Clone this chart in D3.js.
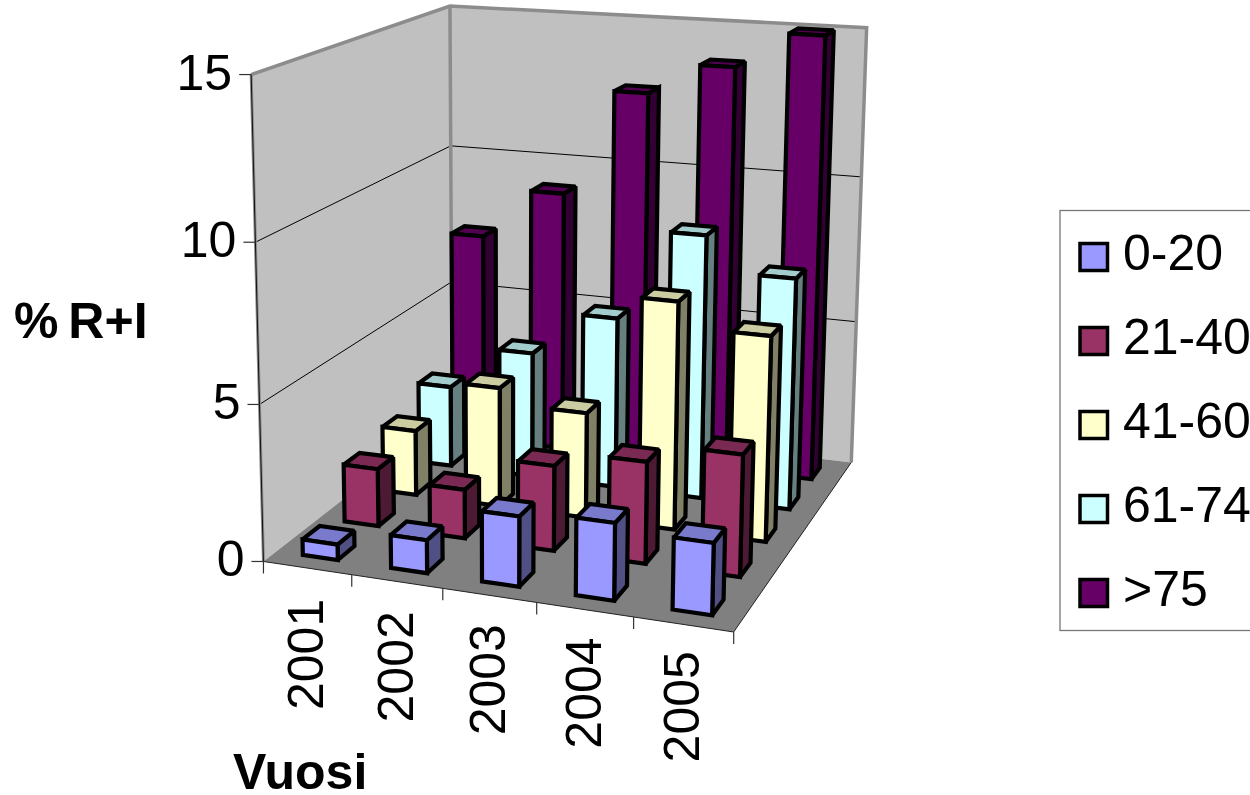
<!DOCTYPE html>
<html>
<head>
<meta charset="utf-8">
<script src="https://cdn.jsdelivr.net/npm/d3@7"></script>
<style>
html,body{margin:0;padding:0;background:#fff;}
svg{display:block;}
text{font-family:"Liberation Sans",Arial,sans-serif;fill:#000;}
</style>
</head>
<body>
<svg id="chart" width="1250" height="795"></svg>
<script>
// Chart values: share (%) per year and age group
const years = ["2001","2002","2003","2004","2005"];
const groups = ["0-20","21-40","41-60","61-74",">75"];
const values0to20  = [0.5, 1.05, 2.2, 2.4, 2.2];
const values21to40 = [1.9, 1.6, 2.75, 3.25, 3.85];
const values41to60 = [2.2, 4.0, 3.5, 7.45, 6.65];
const values61to74 = [2.8, 4.3, 5.8, 8.85, 7.7];
const values75plus = [7.35, 9.1, 12.75, 13.8, 15.0];
const seriesValues = [values0to20, values21to40, values41to60, values61to74, values75plus];
const zTicks = [0, 5, 10, 15];

// Face colours of each group: front, right side, top
const frontColors = ["#9999ff","#993366","#ffffcc","#ccffff","#660066"];
const sideColors  = ["#505085","#4d1a33","#808066","#668080","#330033"];
const topColors   = ["#7a7acc","#7a2952","#cccca3","#a3cccc","#520052"];

// Camera calibration: box positions (x, depth, z in unit cube) and where they fall on the page
const calibration = [
  [0,0,0,264,563],[0.2,0,0,351,576],[0.4,0,0,442,590],[0.6,0,0,536,603],[0.8,0,0,631,616],[1,0,0,735,630],
  [1,1,0,854,462],[0,1,0,452,412],
  [0,0,1/3,262,405],[0,0,2/3,257,240],[0,0,1,250,74],
  [0,1,1/3,451,282],[0,1,2/3,450,147],[0,1,1,450,6],
  [1,1,1/3,855,322],[1,1,2/3,860,179],[1,1,1,868,27]
];

function solveLinear(A, b) {
  const n = b.length, M = A.map((r,i) => [...r, b[i]]);
  for (let c = 0; c < n; c++) {
    let p = c;
    for (let r = c+1; r < n; r++) if (Math.abs(M[r][c]) > Math.abs(M[p][c])) p = r;
    [M[c], M[p]] = [M[p], M[c]];
    for (let r = 0; r < n; r++) {
      if (r === c) continue;
      const f = M[r][c] / M[c][c];
      for (let k = c; k <= n; k++) M[r][k] -= f * M[c][k];
    }
  }
  return M.map((r,i) => r[n] / r[i]);
}

// Least-squares fit of the 3x4 projection matrix
function fitCamera(pts) {
  const rows = [], rhs = [];
  pts.forEach(([X,Y,Z,u,v]) => {
    rows.push([X,Y,Z,1,0,0,0,0,-u*X,-u*Y,-u*Z]); rhs.push(u);
    rows.push([0,0,0,0,X,Y,Z,1,-v*X,-v*Y,-v*Z]); rhs.push(v);
  });
  const N = d3.range(11).map(i => d3.range(11).map(j => d3.sum(rows, r => r[i]*r[j])));
  const B = d3.range(11).map(i => d3.sum(rows, (r,k) => r[i]*rhs[k]));
  return solveLinear(N, B);
}
const cam = fitCamera(calibration);
const project = (X,Y,Z) => {
  const w = cam[8]*X + cam[9]*Y + cam[10]*Z + 1;
  return [(cam[0]*X+cam[1]*Y+cam[2]*Z+cam[3])/w, (cam[4]*X+cam[5]*Y+cam[6]*Z+cam[7])/w];
};

const xBand = d3.scaleBand().domain(years).range([0,1]).paddingInner(0.6).paddingOuter(0.3);
const yBand = d3.scaleBand().domain(groups).range([0,1]).paddingInner(0.6).paddingOuter(0.3);
const zScale = d3.scaleLinear().domain([0,15]).range([0,1]);

const svg = d3.select("#chart");
const poly = d3.line().curve(d3.curveLinearClosed);
const open = d3.line();
const P = pts => pts.map(p => project(...p));

// Floor and walls
const walls = svg.append("g");
walls.append("path").attr("d", poly(P([[0,0,0],[0,1,0],[0,1,1],[0,0,1]]))).attr("fill","#c0c0c0");
walls.append("path").attr("d", poly(P([[0,1,0],[1,1,0],[1,1,1],[0,1,1]]))).attr("fill","#c0c0c0");
walls.append("path").attr("d", poly(P([[0,0,0],[1,0,0],[1,1,0],[0,1,0]]))).attr("fill","#808080");

// Gridlines on both walls
const grid = svg.append("g").attr("fill","none").attr("stroke","#000").attr("stroke-width",1);
zTicks.filter(t => t > 0 && t < 15).forEach(t => {
  const z = zScale(t);
  grid.append("path").attr("d", open(P([[0,0,z],[0,1,z],[1,1,z]])));
});

// Heavy wall edges
const edges = svg.append("g").attr("fill","none").attr("stroke","#8c8c8c").attr("stroke-width",3.5);
edges.append("path").attr("d", open(P([[0,0,1],[0,1,1],[1,1,1],[1,1,0]])));
edges.append("path").attr("d", open(P([[0,1,0],[0,1,1]])));
svg.append("path").attr("d", open(P([[0,0,0],[0,0,1]]))).attr("fill","none").attr("stroke","#8c8c8c").attr("stroke-width",3);
svg.append("path").attr("d", open(P([[0,0,0],[0,0,1]]))).attr("fill","none").attr("stroke","#111").attr("stroke-width",1);
svg.append("path").attr("d", open(P([[0,0,0],[1,0,0],[1,1,0]]))).attr("fill","none").attr("stroke","#222").attr("stroke-width",1);

// Axis ticks
const ticks = svg.append("g").attr("stroke","#333").attr("stroke-width",1.2);
zTicks.forEach(t => {
  const [x,y] = project(0,0,zScale(t));
  ticks.append("line").attr("x1",x-12).attr("x2",x).attr("y1",y).attr("y2",y);
});
d3.range(years.length+1).forEach(i => {
  const [x,y] = project(i/years.length,0,0);
  ticks.append("line").attr("x1",x).attr("x2",x).attr("y1",y).attr("y2",y+12);
});

// Bars, painted from the back row forward and left to right within a row
const bars = svg.append("g").attr("stroke","#000").attr("stroke-width",4.2)
  .attr("stroke-linejoin","miter").attr("stroke-miterlimit",2);
d3.range(groups.length-1,-1,-1).forEach(s => {
  years.forEach((yr,i) => {
    const x0 = xBand(yr), x1 = x0 + xBand.bandwidth();
    const y0 = yBand(groups[s]), y1 = y0 + yBand.bandwidth();
    const z = zScale(seriesValues[s][i]);
    bars.append("path").attr("d", poly(P([[x1,y0,0],[x1,y1,0],[x1,y1,z],[x1,y0,z]]))).attr("fill",sideColors[s]);
    bars.append("path").attr("d", poly(P([[x0,y0,z],[x1,y0,z],[x1,y1,z],[x0,y1,z]]))).attr("fill",topColors[s]);
    bars.append("path").attr("d", poly(P([[x0,y0,0],[x1,y0,0],[x1,y0,z],[x0,y0,z]]))).attr("fill",frontColors[s]);
  });
});

// Value axis labels, ending just left of their ticks
const labels = svg.append("g").attr("font-size",50);
zTicks.forEach(t => {
  const [x,y] = project(0,0,zScale(t));
  labels.append("text").attr("x",x-19).attr("y",y+15).attr("text-anchor","end").text(t);
});

// Year labels, rotated; the drop below the axis eases slightly toward the right
years.forEach((yr,i) => {
  const [x,y] = project((i+0.5)/years.length,0,0);
  labels.append("text").attr("transform",`translate(${x+16},${y+142-i}) rotate(-90)`).text(yr);
});

// Axis titles
svg.append("text").attr("x",14).attr("y",338).attr("font-size",50).attr("font-weight","bold").attr("word-spacing",-4).text("% R+I");
svg.append("text").attr("x",233).attr("y",789).attr("font-size",50).attr("font-weight","bold").text("Vuosi");

// Legend
const legend = svg.append("g");
legend.append("rect").attr("x",1060).attr("y",210.5).attr("width",200).attr("height",420).attr("fill","#fff").attr("stroke","#777").attr("stroke-width",1.3);
groups.forEach((g,i) => {
  const yTop = 243.5 + i*84;
  legend.append("rect").attr("x",1080).attr("y",yTop).attr("width",27.5).attr("height",27).attr("fill",frontColors[i]).attr("stroke","#000").attr("stroke-width",3.5);
  legend.append("text").attr("x",1123).attr("y",yTop+26.5).attr("font-size",50).text(g);
});
</script>
</body>
</html>
